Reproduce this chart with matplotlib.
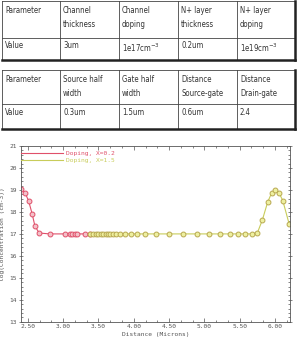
import matplotlib
matplotlib.use("Agg")
import matplotlib.pyplot as plt
from matplotlib.lines import Line2D
from matplotlib.ticker import MultipleLocator, AutoMinorLocator, FormatStrFormatter

# table contents
table1_head = ["Parameter", "Channel\nthickness", "Channel\ndoping", "N+ layer\nthickness", "N+ layer\ndoping"]
table1_vals = ["Value", "3um", "1e17cm$^{-3}$", "0.2um", "1e19cm$^{-3}$"]
table2_head = ["Parameter", "Source half\nwidth", "Gate half\nwidth", "Distance\nSource-gate", "Distance\nDrain-gate"]
table2_vals = ["Value", "0.3um", "1.5um", "0.6um", "2.4"]

# doping profiles
x_02 = [2.41, 2.46, 2.51, 2.56, 2.60, 2.66, 2.81, 3.03, 3.09, 3.13, 3.17, 3.20, 3.31, 3.38]
y_02 = [19.03, 18.87, 18.51, 17.92, 17.36, 17.04, 17.0, 17.0, 17.0, 17.0, 17.0, 17.0, 17.0, 17.0]
x_15 = [3.38, 3.42, 3.46, 3.49, 3.53, 3.56, 3.60, 3.63, 3.67, 3.71, 3.75, 3.81, 3.88, 3.96, 4.05,
        4.16, 4.32, 4.50, 4.69, 4.89, 5.06, 5.22, 5.36, 5.48, 5.58, 5.67, 5.75, 5.82, 5.895,
        5.95, 6.00, 6.055, 6.11, 6.20]
y_15 = [17.0] * 26 + [17.05, 17.63, 18.44, 18.85, 19.0, 18.88, 18.51, 17.45]
labels = ["Doping, X=0.2", "Doping, X=1.5"]

red = "#e0506a"
olive = "#c8cc5a"

fig = plt.figure(figsize=(2.97, 3.45), dpi=100)

# tables drawn in pixel coordinates
tb = fig.add_axes([0, 0, 1, 1])
tb.set_xlim(0, 297)
tb.set_ylim(345, 0)
tb.axis("off")

cols = [2, 60, 119, 178, 237, 295]
tfont = dict(family="DejaVu Sans", stretch="condensed", fontsize=5.6, color="#333333")


def draw_table(top, mid, bot, head, vals):
    for x in cols[:-1]:
        tb.plot([x, x], [top, bot], color="#444444", lw=0.6)
    tb.plot([cols[0], cols[-1]], [top, top], color="#444444", lw=0.6)
    tb.plot([cols[0], cols[-1]], [mid, mid], color="#444444", lw=0.6)
    tb.plot([cols[-1], cols[-1]], [top, bot], color="#222222", lw=1.8)
    tb.plot([cols[0], cols[-1]], [bot, bot], color="#222222", lw=1.8)
    for i in range(5):
        tb.text(cols[i] + 3, top + 5, head[i], va="top", ha="left", linespacing=1.7, **tfont)
        tb.text(cols[i] + 3, mid + 4, vals[i], va="top", ha="left", **tfont)


draw_table(1, 37.5, 59.5, table1_head, table1_vals)
draw_table(70, 104, 129, table2_head, table2_vals)

# doping plot
ax = fig.add_axes([0.07, 0.067, 0.906, 0.51])
mono = dict(family="DejaVu Sans Mono", size=4.5)

ax.plot(x_02, y_02, color=red, lw=0.8, marker="o", ms=3.5, mfc="#f3c0c8", mec=red, mew=0.7)
ax.plot(x_15, y_15, color=olive, lw=0.8, marker="o", ms=3.5, mfc="#eef0a0", mec="#b8a850", mew=0.7)

ax.set_xlim(2.4, 6.21)
ax.set_ylim(13, 21)
ax.xaxis.set_major_locator(MultipleLocator(0.5))
ax.xaxis.set_minor_locator(AutoMinorLocator(3))
ax.yaxis.set_major_locator(MultipleLocator(1))
ax.yaxis.set_minor_locator(AutoMinorLocator(5))
ax.xaxis.set_major_formatter(FormatStrFormatter("%.2f"))
ax.tick_params(which="both", top=True, right=True, direction="in", color="#555555", width=0.5)
ax.tick_params(which="major", length=3, labelsize=4.5, labelcolor="#555555", pad=1.5)
ax.tick_params(which="minor", length=1.5)
ax.tick_params(axis="y", which="major", left=True, direction="inout")
for lab in ax.get_xticklabels() + ax.get_yticklabels():
    lab.set_family("DejaVu Sans Mono")
for sp in ax.spines.values():
    sp.set_color("#555555")
    sp.set_linewidth(0.6)

ax.set_xlabel("Distance (Microns)", fontdict=mono, color="#555555", labelpad=2)
ax.set_ylabel("log(Concentration (cm-3))", fontdict=mono, color="#555555", labelpad=3)

handles = [Line2D([], [], color=red, lw=0.8), Line2D([], [], color=olive, lw=0.8)]
ax.legend(handles, labels, loc="upper left", bbox_to_anchor=(0, 0.975), frameon=False,
          borderaxespad=0, borderpad=0, handlelength=6.7, handletextpad=0.6, labelspacing=0.3,
          prop=mono, labelcolor=[red, olive])

plt.savefig("out.png", dpi=100)
